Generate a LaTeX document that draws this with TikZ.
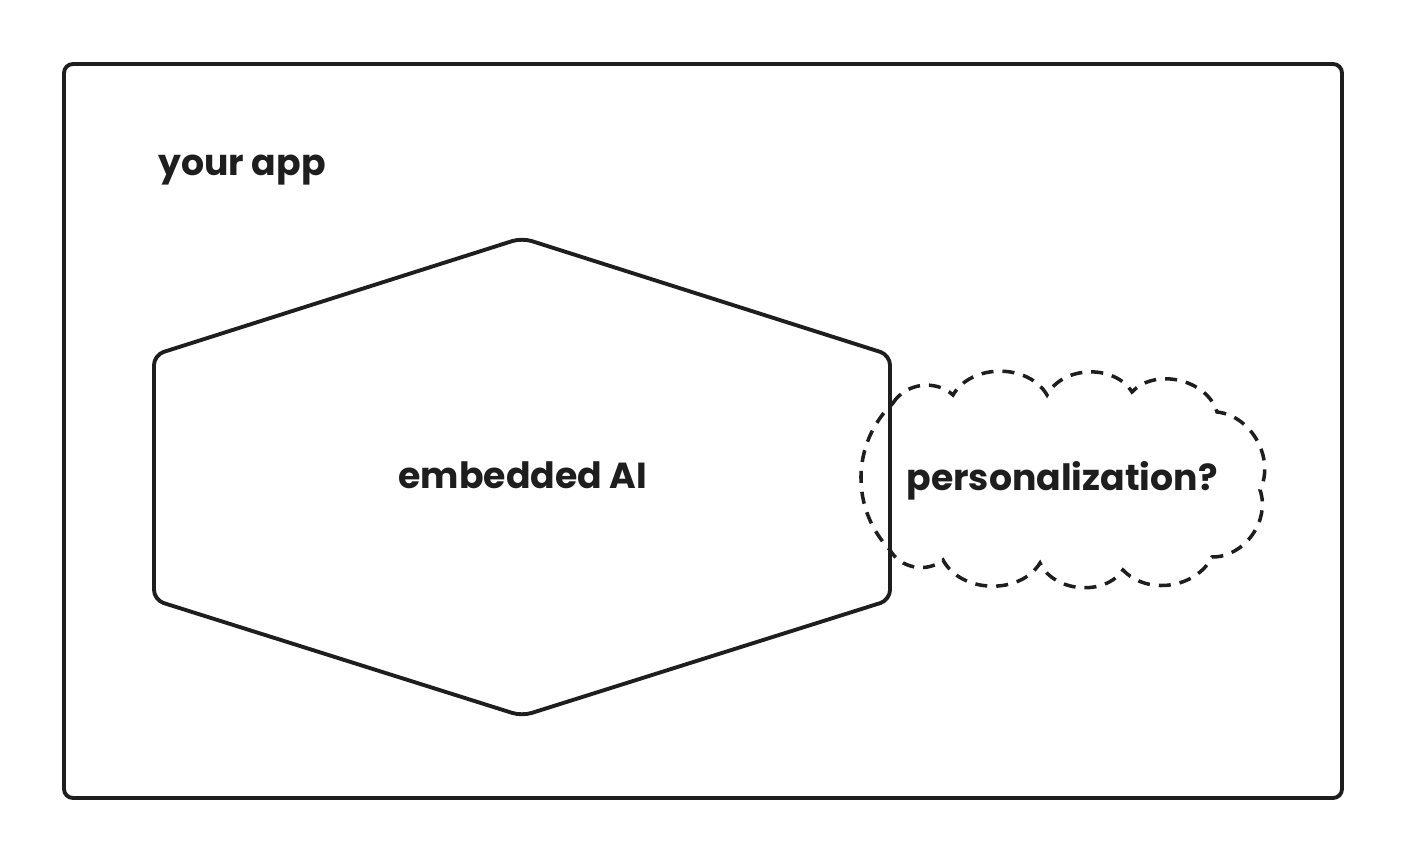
\documentclass[tikz,border=0pt]{standalone}
\usepackage{fontspec}
\setmainfont{Poppins}
\usetikzlibrary{positioning}
\definecolor{ink}{HTML}{1E1E1E}

\begin{document}
\begin{tikzpicture}[x=0.01cm,y=-0.01cm,line width=1.1pt,
  frame/.style={draw=ink,rounded corners=0.09cm},
  cloudline/.style={draw=ink,line width=1pt,dash pattern=on 0.12cm off 0.09cm},
  hand/.style={text=ink,font=\fontsize{10.3}{12}\selectfont\bfseries,inner sep=0pt}]
  \useasboundingbox (0,0) rectangle (1406,861);

  % the app around everything
  \draw[frame] (64,64) rectangle (1342,798);
  \node[hand] (app) at (242,170) {your app};

  % embedded part
  \draw[frame,rounded corners=0.1cm] (522,238) -- (890,355) -- (890,600)
        -- (522,716) -- (154,600) -- (154,355) -- cycle;
  \node[hand] (ai) at (523,475) {embedded AI};

  % open question
  \draw[cloudline] (893,403) to[bend left=50] (953,395) to[bend left=60] (1047,395)
        to[bend left=60] (1132,392) to[bend left=60] (1217,412)
        to[bend left=55] (1260,490) to[bend left=55] (1212,557)
        to[bend left=55] (1123,570) to[bend left=60] (1040,563)
        to[bend left=60] (943,560) to[bend left=50] (890,550)
        to[bend left=45] (893,403);
  \node[hand] (pers) at (1062,481) {personalization?};
\end{tikzpicture}
\end{document}
